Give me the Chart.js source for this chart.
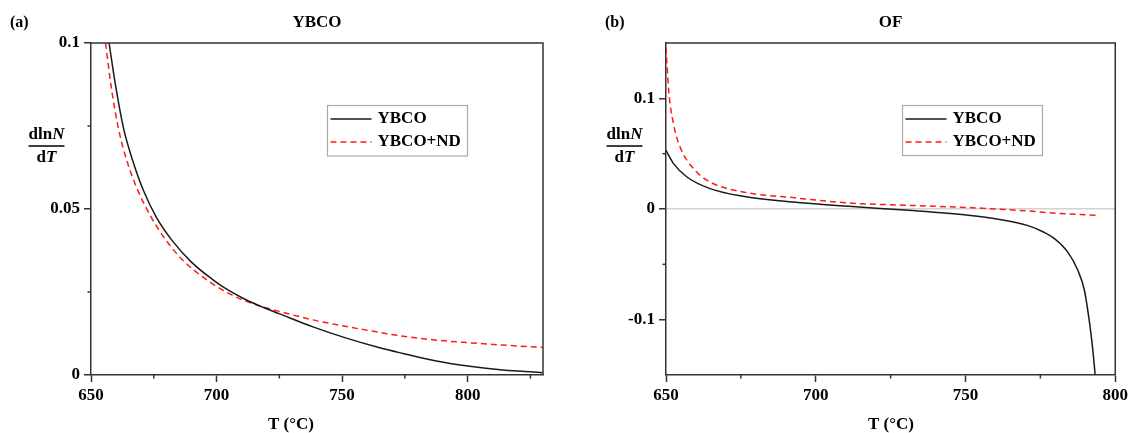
<!DOCTYPE html>
<html>
<head>
<meta charset="utf-8">
<script src="https://cdn.jsdelivr.net/npm/chart.js@4.4.0/dist/chart.umd.min.js"></script>
<style>
    body { margin: 0; background: #fff; }
    #wrap { position: relative; width: 1131px; height: 433px; }
    canvas { position: absolute; top: 0; }
</style>
</head>
<body>
<div id="wrap">
    <canvas id="chartA" width="560" height="433" style="left:0"></canvas>
    <canvas id="chartB" width="571" height="433" style="left:560px"></canvas>
</div>
<script>
// series names
const seriesNames = ['YBCO', 'YBCO+ND'];

// (a) YBCO
const tempA_ybco = [657.2, 659.5, 662.9, 666.6, 670.8, 676.1, 682.1, 690, 698.7, 705, 711.9, 718.5, 725.2, 738.4, 751.7, 765, 774.2, 787.5, 800.8, 814, 830];
const valA_ybco  = [0.100, 0.0885, 0.0745, 0.0646, 0.0557, 0.0474, 0.0407, 0.0340, 0.0286, 0.0254, 0.0226, 0.0204, 0.0184, 0.0145, 0.0111, 0.0082, 0.0065, 0.0042, 0.0026, 0.0015, 0.0007];
const tempA_nd   = [655.8, 658, 661, 664.5, 669, 674, 679, 685.4, 691, 698.7, 705, 711.9, 718.5, 725.2, 738.4, 751.7, 763.6, 774.2, 787.5, 800.8, 814, 830];
const valA_nd    = [0.100, 0.0870, 0.0740, 0.0640, 0.0550, 0.0475, 0.0415, 0.0355, 0.0316, 0.0273, 0.0245, 0.0222, 0.0205, 0.0191, 0.0166, 0.0146, 0.0130, 0.0117, 0.0105, 0.0097, 0.0090, 0.0083];

// (b) OF
const tempB_ybco = [650, 650.9, 652.5, 657, 664.7, 675.7, 692.3, 711.1, 731, 751, 760.9, 770.9, 776, 779.7, 784.1, 787.5, 789.7, 791.3, 792.4, 793.3];
const valB_ybco  = [0.053, 0.0485, 0.041, 0.0289, 0.0184, 0.0115, 0.0063, 0.0024, -0.0012, -0.0057, -0.0092, -0.0150, -0.0208, -0.0267, -0.0388, -0.0554, -0.0734, -0.1005, -0.1246, -0.150];
const tempB_nd   = [650, 650.9, 652.5, 654.7, 659.2, 664.7, 675.7, 692.3, 711.1, 731, 751, 770.9, 777.5, 794.1];
const valB_nd    = [0.146, 0.107, 0.077, 0.056, 0.0365, 0.0244, 0.0154, 0.0103, 0.0054, 0.0033, 0.0013, -0.0018, -0.0033, -0.0057];

// tick labels
const xTicks = [650, 700, 750, 800];
const xMinorA = [675, 725, 775, 825];
const xMinorB = [675, 725, 775];
const yTicksA = [0, 0.05, 0.1];
const yLabelsA = ['0', '0.05', '0.1'];
const yMinorA = [0.025, 0.075];
const yTicksB = [-0.1, 0, 0.1];
const yLabelsB = ['-0.1', '0', '0.1'];
const yMinorB = [-0.05, 0.05];

const FUENTE = "'Liberation Serif', 'Times New Roman', serif";
const EJE = '#333';

const puntos = (xs, ys) => xs.map((x, i) => ({ x: x, y: ys[i] }));

const decoracion = {
    id: 'decoracion',
    afterDraw(chart, args, o) {
        const ctx = chart.ctx;
        const a = chart.chartArea;
        const sx = chart.scales.x;
        const sy = chart.scales.y;
        ctx.save();

        // marco superior y derecho
        ctx.strokeStyle = EJE;
        ctx.lineWidth = 1.5;
        ctx.beginPath();
        ctx.moveTo(a.left, a.top);
        ctx.lineTo(a.right, a.top);
        ctx.lineTo(a.right, a.bottom);
        ctx.stroke();

        // ticks menores
        o.minorX.forEach(v => {
            const px = sx.getPixelForValue(v);
            ctx.beginPath();
            ctx.moveTo(px, a.bottom);
            ctx.lineTo(px, a.bottom + 3.5);
            ctx.stroke();
        });
        o.minorY.forEach(v => {
            const py = sy.getPixelForValue(v);
            ctx.beginPath();
            ctx.moveTo(a.left - 3.5, py);
            ctx.lineTo(a.left, py);
            ctx.stroke();
        });

        // textos
        ctx.fillStyle = '#000';
        ctx.textBaseline = 'middle';
        ctx.font = 'bold 16px ' + FUENTE;
        ctx.textAlign = 'left';
        ctx.fillText(o.letra, o.letraX, 23);
        ctx.font = 'bold 17px ' + FUENTE;
        ctx.textAlign = 'center';
        ctx.fillText(o.titulo, (a.left + a.right) / 2, 23);
        ctx.fillText('T (°C)', o.ejeX, 425);

        // etiqueta del eje y: dlnN / dT
        const negrita = 'bold 17px ' + FUENTE;
        const cursiva = 'italic bold 17px ' + FUENTE;
        ctx.textAlign = 'left';
        const fila = (partes, cx, y) => {
            let w = 0;
            partes.forEach(p => { ctx.font = p[1]; w += ctx.measureText(p[0]).width; });
            let x = cx - w / 2;
            partes.forEach(p => { ctx.font = p[1]; ctx.fillText(p[0], x, y); x += ctx.measureText(p[0]).width; });
            return w;
        };
        const w = fila([['dln', negrita], ['N', cursiva]], o.fracX, 135);
        ctx.lineWidth = 1.5;
        ctx.strokeStyle = '#000';
        ctx.beginPath();
        ctx.moveTo(o.fracX - w / 2, 146);
        ctx.lineTo(o.fracX + w / 2, 146);
        ctx.stroke();
        fila([['d', negrita], ['T', cursiva]], o.fracX, 158);

        // leyenda
        const L = o.leyenda;
        ctx.fillStyle = '#fff';
        ctx.fillRect(L.x, L.y, L.w, L.h);
        ctx.strokeStyle = '#aaa';
        ctx.lineWidth = 1.2;
        ctx.strokeRect(L.x, L.y, L.w, L.h);
        chart.data.datasets.forEach((ds, i) => {
            const yy = L.y + 13.5 + i * 23;
            ctx.strokeStyle = ds.borderColor;
            ctx.lineWidth = 1.5;
            ctx.setLineDash(ds.borderDash || []);
            ctx.beginPath();
            ctx.moveTo(L.x + 3, yy);
            ctx.lineTo(L.x + 44, yy);
            ctx.stroke();
            ctx.setLineDash([]);
            ctx.fillStyle = '#000';
            ctx.font = negrita;
            ctx.fillText(ds.label, L.x + 50, yy);
        });
        ctx.restore();
    }
};

function escalas(xMin, xMax, yMin, yMax, yTicks, yLabels, anchoY, lineaCero) {
    return {
        x: {
            type: 'linear',
            min: xMin,
            max: xMax,
            afterBuildTicks: (s) => { s.ticks = xTicks.map(v => ({ value: v })); },
            afterFit: (s) => { s.height = 58; },
            ticks: {
                callback: (v) => String(v),
                color: '#000',
                padding: 3,
                maxRotation: 0,
                font: { family: FUENTE, size: 17, weight: 'bold' }
            },
            grid: { drawOnChartArea: false, tickLength: 7, tickColor: EJE, tickWidth: 1.5 },
            border: { color: EJE, width: 1.5 }
        },
        y: {
            type: 'linear',
            min: yMin,
            max: yMax,
            afterBuildTicks: (s) => { s.ticks = yTicks.map(v => ({ value: v })); },
            afterFit: (s) => { s.width = anchoY; },
            ticks: {
                callback: (v, i) => yLabels[i],
                color: '#000',
                padding: 4,
                font: { family: FUENTE, size: 17, weight: 'bold' }
            },
            grid: {
                drawOnChartArea: lineaCero,
                color: (c) => (c.tick && c.tick.value === 0) ? '#d2d2d2' : 'rgba(0,0,0,0)',
                lineWidth: 1.5,
                tickLength: 7,
                tickColor: EJE,
                tickWidth: 1.5
            },
            border: { color: EJE, width: 1.5 }
        }
    };
}

function datasets(xs1, ys1, xs2, ys2) {
    return [{
        label: seriesNames[0],
        data: puntos(xs1, ys1),
        borderColor: '#1a1a1a',
        borderWidth: 1.5,
        pointRadius: 0,
        cubicInterpolationMode: 'monotone'
    }, {
        label: seriesNames[1],
        data: puntos(xs2, ys2),
        borderColor: '#ff1a1a',
        borderWidth: 1.5,
        borderDash: [6, 4],
        pointRadius: 0,
        cubicInterpolationMode: 'monotone'
    }];
}

new Chart(document.getElementById('chartA').getContext('2d'), {
    type: 'line',
    data: { datasets: datasets(tempA_ybco, valA_ybco, tempA_nd, valA_nd) },
    options: {
        responsive: false,
        animation: false,
        layout: { padding: { top: 43, right: 17, left: 0, bottom: 0 } },
        scales: escalas(650, 830, 0, 0.1, yTicksA, yLabelsA, 91, false),
        plugins: {
            legend: { display: false },
            tooltip: { enabled: false },
            decoracion: {
                minorX: xMinorA, minorY: yMinorA,
                letra: '(a)', letraX: 10, titulo: 'YBCO', ejeX: 291, fracX: 46.5,
                leyenda: { x: 327.5, y: 105.5, w: 140, h: 50.5 }
            }
        }
    },
    plugins: [decoracion]
});

new Chart(document.getElementById('chartB').getContext('2d'), {
    type: 'line',
    data: { datasets: datasets(tempB_ybco, valB_ybco, tempB_nd, valB_nd) },
    options: {
        responsive: false,
        animation: false,
        layout: { padding: { top: 43, right: 13, left: 0, bottom: 0 } },
        scales: escalas(650, 800, -0.15, 0.15, yTicksB, yLabelsB, 106, true),
        plugins: {
            legend: { display: false },
            tooltip: { enabled: false },
            decoracion: {
                minorX: xMinorB, minorY: yMinorB,
                letra: '(b)', letraX: 45, titulo: 'OF', ejeX: 331, fracX: 64.5,
                leyenda: { x: 342.5, y: 105.5, w: 140, h: 50 }
            }
        }
    },
    plugins: [decoracion]
});
</script>
</body>
</html>
